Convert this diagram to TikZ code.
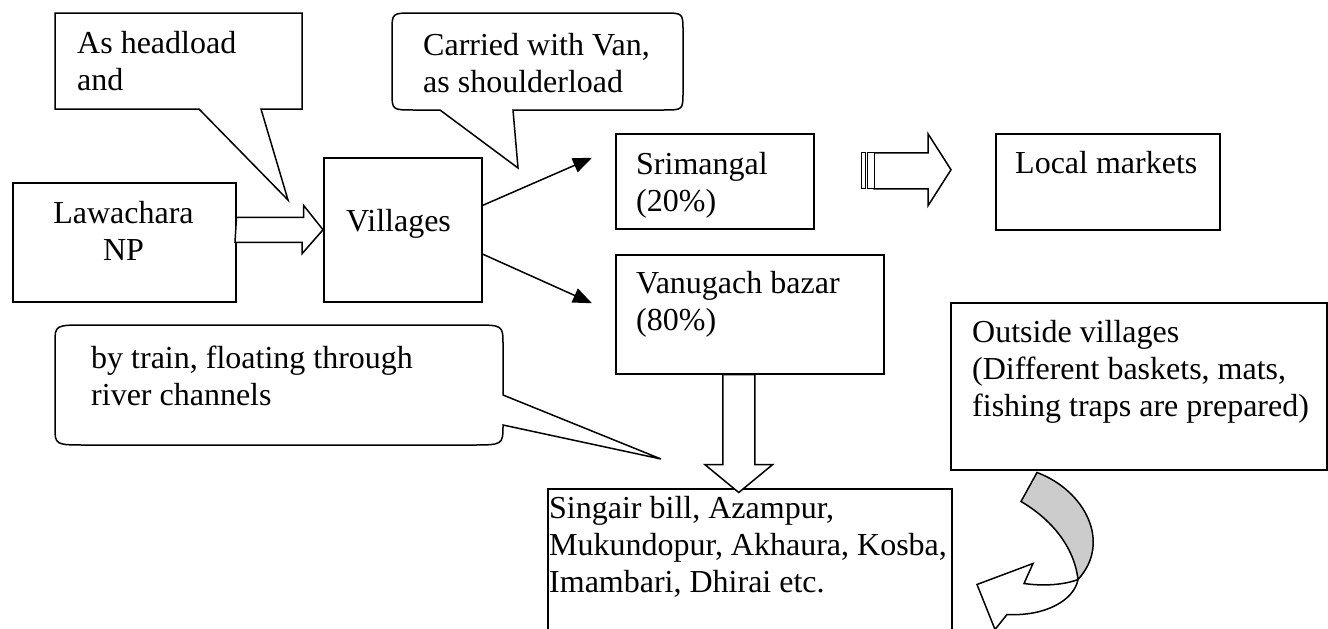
\documentclass[tikz,border=0pt]{standalone}
\usepackage{fontspec}
\setmainfont{Liberation Serif}
\usetikzlibrary{arrows.meta, calc, positioning}
\newcommand{\flowfont}{\fontsize{32}{36.8}\selectfont}
\tikzset{
  box/.style = {draw=black, line width=1.5pt, inner sep=0pt, anchor=north west},
  txt/.style = {inner sep=0pt, anchor=north west, align=left, font=\flowfont},
  callout/.style = {draw=black, line width=1.5pt, fill=white, line join=miter},
  blockarrow/.style = {draw=black, line width=1.5pt, fill=white, line join=miter}
}

\begin{document}
\begin{tikzpicture}[x=1pt, y=-1pt, >={Triangle[length=19pt,width=15pt]}]
\fill[white] (0,0) rectangle (1328,629);
\useasboundingbox (0,0) rectangle (1328,629);
\clip (0,0) rectangle (1328,629);

% boxes
\node [box, minimum width=223pt, minimum height=119pt] (lawachara) at (12,182) {};
\node [box, minimum width=158pt, minimum height=144pt] (villages) at (323,157) {};
\node [box, minimum width=198pt, minimum height=95pt] (srimangal) at (615,133) {};
\node [box, minimum width=224pt, minimum height=96pt] (markets) at (995,133) {};
\node [box, minimum width=268pt, minimum height=119pt] (vanugach) at (615,254) {};
\node [box, minimum width=376pt, minimum height=167pt] (outside) at (950,302) {};
\node [box, minimum width=404pt, minimum height=160pt] (singair) at (547,488) {};

\node [txt, anchor=north, align=center] (lawacharatxt) at (123.5,201) {Lawachara\\NP};
\node [txt] (villagestxt) at (346,209) {Villages};
\node [txt] (srimangaltxt) at (636,152) {Srimangal\\(20\%)};
\node [txt] (marketstxt) at (1015,151) {Local markets};
\node [txt] (vanugachtxt) at (636,271) {Vanugach bazar\\(80\%)};
\node [txt] (outsidetxt) at (972,320) {Outside villages\\(Different baskets, mats,\\fishing traps are prepared)};
\node [txt] (singairtxt) at (549,496) {Singair bill, Azampur,\\Mukundopur, Akhaura, Kosba,\\Imambari, Dhirai etc.};

% callouts
\coordinate (headtip) at (288,200);
\coordinate (vantip) at (518,168);
\coordinate (traintip) at (661,459);
\draw [callout] (headtip) -- (261,109) -- (302,109) -- (302,13) -- (55,13) -- (55,109) -- (199,109) -- cycle;
\draw [callout] (vantip) -- (513,110) -- (663,110) .. controls (683,110) .. (683,92) -- (683,31)
  .. controls (683,13) .. (663,13) -- (414,13) .. controls (392,13) .. (392,31) -- (392,92)
  .. controls (392,110) .. (414,110) -- (440,110) -- cycle;
\draw [callout] (traintip) -- (503,425) .. controls (503,445) .. (471,445) -- (87,445)
  .. controls (55,445) .. (55,427) -- (55,343) .. controls (55,325) .. (87,325) -- (473,325)
  .. controls (503,325) .. (503,345) -- (503,395) -- cycle;
\node [txt] (headloadtxt) at (77,31) {As headload\\and};
\node [txt] (vantxt) at (423,33) {Carried with Van,\\as shoulderload};
\node [txt] (traintxt) at (91,346) {by train, floating through\\river channels};

% flows
\draw [blockarrow] (lawachara.east |- villages.west) ++(0,-12.5) -- ++(67,0) -- ++(0,-12)
  -- (villages.west) -- ++(-21,24) -- ++(0,-11.5) -- ++(-67,0) -- cycle;
\draw [->, line width=1.5pt] ($(villages.north east)!0.333!(villages.south east)$) -- ($(srimangal.west)+(-23,-23.5)$);
\draw [->, line width=1.5pt] ($(villages.north east)!0.667!(villages.south east)$) -- ($(vanugach.west)+(-23,-11)$);

\draw [blockarrow] ($(markets.west)+(-44,-12)$) coordinate (stip) -- ++(-23,-36) -- ++(0,19)
  -- ++(-54,0) -- ++(0,36) -- ++(54,0) -- ++(0,17) -- cycle;
\draw [blockarrow, line width=1pt] ($(stip)+(-84,-17)$) rectangle ++(7,36);
\draw [blockarrow, line width=1pt] ($(stip)+(-90,-17)$) rectangle ++(4,36);

\draw [blockarrow] ($(vanugach.south)+(-27,0)$) -- ++(0,90) -- ++(-18,0) -- ++(34,28)
  -- ++(34,-28) -- ++(-18,0) -- ++(0,-90) -- cycle;

% curved arrow below outside villages
\begin{scope}[shift={(outside.south west)}]
\draw [blockarrow, fill=gray!40] (87,2) .. controls (135,20) and (162,72) .. (128,109)
  .. controls (124,75) and (100,48) .. (71,31) -- cycle;
\draw [blockarrow] (128,109) .. controls (124,130) and (95,146) .. (57,144) -- (45,159)
  -- (27,114) -- (83,93) -- (74,113) .. controls (95,116) and (115,114) .. (128,109) -- cycle;
\end{scope}
\end{tikzpicture}
\end{document}
